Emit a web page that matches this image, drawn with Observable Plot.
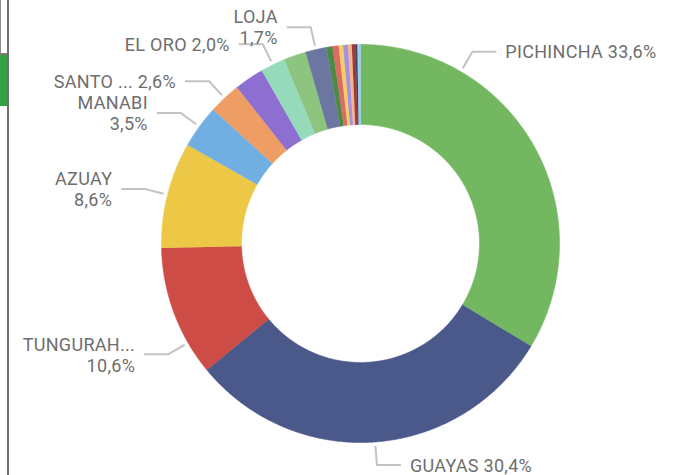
<!DOCTYPE html>
<html><head><meta charset="utf-8">
<script src="https://cdn.jsdelivr.net/npm/d3@7"></script>
<script src="https://cdn.jsdelivr.net/npm/@observablehq/plot@0.6"></script>
<style>
body{margin:0;background:#fff;}
#wrap{position:relative;width:687px;height:475px;overflow:hidden;background:#fff;}
.deco{position:absolute;}
#chart text{letter-spacing:0.3px;}
</style></head><body>
<div id="wrap"><div id="chart"></div>
<div class="deco" style="left:0;top:0;width:1px;height:54px;background:#8a8a8a"></div>
<div class="deco" style="left:0;top:53px;width:9px;height:2px;background:#7a7a7a"></div>
<div class="deco" style="left:0;top:55px;width:7px;height:51px;background:#34a048"></div>
<div class="deco" style="left:7px;top:0;width:2px;height:475px;background:#6e6e6e"></div>
</div>
<script>
// Data (clockwise from 12 o'clock)
const provinces = ["PICHINCHA","GUAYAS","TUNGURAHUA","AZUAY","MANABI","SANTO DOMINGO","IMBABURA","EL ORO","CHIMBORAZO","LOJA","COTOPAXI","LOS RIOS","ESMERALDAS","SANTA ELENA","CARCHI","CAÑAR","BOLIVAR","NAPO"];
const shares = [33.6,30.4,10.6,8.6,3.5,2.6,2.4,2.0,1.8,1.7,0.5,0.5,0.35,0.4,0.3,0.3,0.15,0.25];
const colors = ["#73B761","#4A588A","#CD4C46","#ECC846","#71AFE2","#EE9E64","#8D6FD1","#95DABB","#8DC47F","#6B77A0","#4E8A43","#DC6B66","#F2D064","#A88FE0","#F3B68A","#9E3A38","#3A4266","#9CCFEA"];
const labeledProvinces = ["PICHINCHA","GUAYAS","TUNGURAHUA","AZUAY","MANABI","SANTO DOMINGO","EL ORO","LOJA"];
const labelNames = ["PICHINCHA","GUAYAS","TUNGURAH...","AZUAY","MANABI","SANTO ...","EL ORO","LOJA"];

// Layout (kept separate from data)
const W = 687, H = 475, cx = 360, cy = 243;
const R = 199, R0 = 119, leadStart = 203, leadElbow = 222, leadRun = 24, textGap = 9;
const twoLine = new Set(["TUNGURAHUA","AZUAY","MANABI","LOJA"]);
const anchorFrac = {PICHINCHA: 0.25, TUNGURAHUA: 0.25};

const total = d3.sum(shares);
let acc = 0;
const slices = provinces.map((p, i) => {
  const a0 = acc / total * 2 * Math.PI; acc += shares[i];
  const a1 = acc / total * 2 * Math.PI;
  return {p, v: shares[i], a0, a1, color: colors[i]};
});

const ring = slices.flatMap(s => {
  const n = Math.max(2, Math.ceil((s.a1 - s.a0) / (Math.PI / 360)));
  const pts = [];
  for (let k = 0; k <= n; k++) { const a = s.a0 + (s.a1 - s.a0) * k / n; pts.push({p: s.p, color: s.color, x: R * Math.sin(a), y: R * Math.cos(a)}); }
  for (let k = n; k >= 0; k--) { const a = s.a0 + (s.a1 - s.a0) * k / n; pts.push({p: s.p, color: s.color, x: R0 * Math.sin(a), y: R0 * Math.cos(a)}); }
  return pts;
});

const fmt = v => v.toFixed(1).replace(".", ",") + "%";
const leaders = [], labels = [];
labeledProvinces.forEach((p, i) => {
  const s = slices.find(d => d.p === p);
  const a = s.a0 + (s.a1 - s.a0) * (anchorFrac[p] ?? 0.5);
  const right = a < Math.PI;
  const ex = leadElbow * Math.sin(a), ey = leadElbow * Math.cos(a);
  const hx = ex + (right ? leadRun : -leadRun);
  leaders.push({p, x: leadStart * Math.sin(a), y: leadStart * Math.cos(a)}, {p, x: ex, y: ey}, {p, x: hx, y: ey});
  const pct = fmt(s.v / total * 100);
  labels.push({p, right, x: hx + (right ? textGap : -textGap), y: ey,
    text: labelNames[i] + (twoLine.has(p) ? "\n" : " ") + pct});
});

const textOpts = {x: "x", y: "y", text: "text", fontFamily: "Roboto", fontSize: 18, fill: "#6e6e6e", lineHeight: 1.17, lineAnchor: "middle"};
const chart = Plot.plot({
  width: W, height: H, margin: 0,
  x: {domain: [-cx, W - cx], axis: null},
  y: {domain: [-(H - cy), cy], axis: null},
  color: {type: "identity"},
  marks: [
    Plot.line(ring, {x: "x", y: "y", z: "p", fill: "color", stroke: "color", strokeWidth: 0.6, curve: "linear"}),
    Plot.line(leaders, {x: "x", y: "y", z: "p", stroke: "#c2c2c2", strokeWidth: 2, strokeLinejoin: "miter", strokeLinecap: "butt"}),
    Plot.text(labels.filter(d => d.right), {...textOpts, textAnchor: "start"}),
    Plot.text(labels.filter(d => !d.right), {...textOpts, textAnchor: "end"})
  ]
});
document.getElementById("chart").appendChild(chart);
</script>
</body></html>
